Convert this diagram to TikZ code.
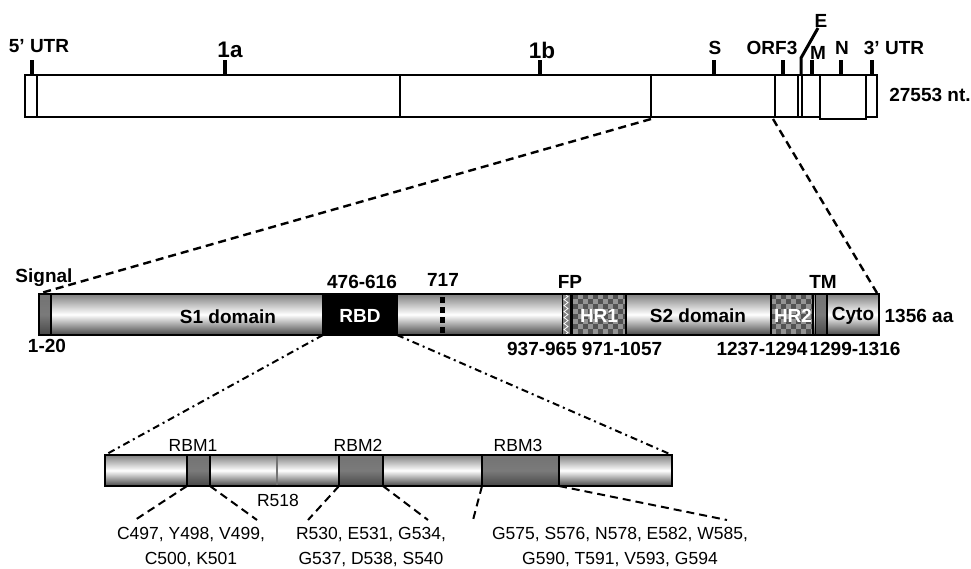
\documentclass[tikz,border=0pt]{standalone}
\usepackage{fontspec}
\setmainfont{Liberation Sans}
\usetikzlibrary{decorations.pathmorphing}
\begin{document}
\begin{tikzpicture}[x=1pt,y=-1pt,
  box/.style={draw=black, line width=1.8pt, fill=white, inner sep=0pt, outer sep=0pt, anchor=north west},
  tickmark/.style={line width=4pt},
  blab/.style={font=\fontsize{19}{21}\selectfont\bfseries, inner sep=0pt},
  biglab/.style={font=\fontsize{22.5}{24}\selectfont\bfseries, inner sep=0pt},
  wlab/.style={blab, text=white},
  rlab/.style={font=\fontsize{17.5}{25}\selectfont, inner sep=0pt, align=center},
  zoomdash/.style={line width=2.4pt, dash pattern=on 8pt off 5pt},
  zoomdd/.style={line width=2pt, dash pattern=on 7pt off 4pt on 2pt off 4pt},
  bar/.style={top color=black!50, bottom color=black!72, middle color=white},
  darkseg/.style={top color=black!55, bottom color=black!72, middle color=black!52},
]
\useasboundingbox (0,0) rectangle (971,568);

% ---------------- genome bar ----------------
\node[box, minimum width=12, minimum height=42] (utr5) at (25,75) {};
\node[box, minimum width=363, minimum height=42] (orf1a) at (37,75) {};
\node[box, minimum width=251, minimum height=42] (orf1b) at (400,75) {};
\node[box, minimum width=124, minimum height=42] (sgene) at (651,75) {};
\node[box, minimum width=23, minimum height=42] (orf3) at (775,75) {};
\node[box, minimum width=4, minimum height=42] (egene) at (798,75) {};
\node[box, minimum width=18, minimum height=42] (mgene) at (802,75) {};
\node[box, minimum width=46, minimum height=44] (ngene) at (820,75) {};
\node[box, minimum width=11, minimum height=42] (utr3) at (866,75) {};

\draw[tickmark] (32,75) -- (32,60);
\draw[tickmark] (225,75) -- (225,60);
\draw[tickmark] (540,75) -- (540,60);
\draw[tickmark] (714,75) -- (714,60);
\draw[tickmark] (783,75) -- (783,60);
\draw[tickmark] (812,75) -- (812,60);
\draw[tickmark] (841,75) -- (841,60);
\draw[tickmark] (872,75) -- (872,60);
\draw[line width=3pt] (801,75) -- (801,58) -- (818,28);

\node[blab] (l5utr) at (39,46) {5’ UTR};
\node[biglab] (l1a) at (230,50) {1a};
\node[biglab] (l1b) at (542,50) {1b};
\node[blab] (lS) at (715,48) {S};
\node[blab] (lorf3) at (772,48) {ORF3};
\node[blab] (lE) at (821,21) {E};
\node[blab] (lM) at (818,53) {M};
\node[blab] (lN) at (842,48) {N};
\node[blab] (l3utr) at (894,48) {3’ UTR};
\node[blab] (lnt) at (930,95) {27553 nt.};

% ---------------- spike domain bar ----------------
\node[box, bar, minimum width=840, minimum height=41] (spike) at (39,294) {};
\node[box, darkseg, draw=none, minimum width=12, minimum height=41] (signal) at (39,294) {};
\draw[line width=1.2pt] (51,294) -- (51,335);
\node[box, fill=black, minimum width=74, minimum height=41] (rbd) at (323,294) {};
\draw[line width=5pt, dash pattern=on 6pt off 4pt] (442,297) -- (442,333);

% FP
\fill[black!50] (562,294) rectangle (570,335);
\draw[white, line width=0.8pt, decorate, decoration={zigzag, segment length=6pt, amplitude=2pt}] (566,295) -- (566,334);
\draw[line width=1pt] (562,294) -- (562,335);
\draw[line width=3pt] (571.5,294) -- (571.5,335);
% HR1
\begin{scope}
\clip (573,294) rectangle (626,335);
\fill[black!42] (573,294) rectangle (626,335);
\foreach \j in {0,...,8} \foreach \i in {0,...,5}
  \fill[black!68] ({573+10*\i+5*mod(\j,2)},{294+5*\j}) rectangle ++(5,5);
\end{scope}
\draw[line width=1.2pt] (626,294) -- (626,335);
% HR2
\begin{scope}
\clip (771,294) rectangle (813,335);
\fill[black!42] (771,294) rectangle (813,335);
\foreach \j in {0,...,8} \foreach \i in {0,...,4}
  \fill[black!68] ({771+10*\i+5*mod(\j,2)},{294+5*\j}) rectangle ++(5,5);
\end{scope}
\draw[line width=1.2pt] (771,294) -- (771,335);
\draw[line width=1.2pt] (813,294) -- (813,335);
% TM
\node[box, darkseg, minimum width=12, minimum height=41, line width=1pt] (tm) at (815,294) {};
\draw[line width=1.5pt] (827,294) -- (827,335);
\draw[line width=2pt] (spike.north west) rectangle (spike.south east);

\node[blab] (lsignal) at (44,278) {Signal};
\node[blab] (l476) at (362,282) {476-616};
\node[blab] (l717) at (443,280) {717};
\node[blab] (lfp) at (570,282) {FP};
\node[blab] (ltm) at (823,282) {TM};
\node[blab] (ls1) at (228,317) {S1 domain};
\node[wlab] (lrbd) at (360,316) {RBD};
\node[wlab] (lhr1) at (599,316) {HR1};
\node[blab] (ls2) at (698,316) {S2 domain};
\node[wlab] (lhr2) at (793,316) {HR2};
\node[blab] (lcyto) at (853,316) {Cyto};
\node[blab] (laa) at (919,316) {1356 aa};
\node[blab] (l120) at (47,346) {1-20};
\node[blab] (l937) at (542,349) {937-965};
\node[blab] (l971) at (622,349) {971-1057};
\node[blab] (l1237) at (762,349) {1237-1294};
\node[blab] (l1299) at (855,349) {1299-1316};

% zoom lines genome -> spike
\coordinate (zl1) at (651,119);
\coordinate (zl2) at (41,293);
\coordinate (zr1) at (773,119);
\coordinate (zr2) at (877,293);
\draw[zoomdash] (zl1) -- (zl2);
\draw[zoomdash] (zr1) -- (zr2);

% ---------------- RBD detail bar ----------------
\node[box, bar, minimum width=567, minimum height=31] (rbmbar) at (105,455) {};
\node[box, darkseg, minimum width=23, minimum height=31, line width=1.2pt] (rbm1) at (187,455) {};
\node[box, darkseg, minimum width=44, minimum height=31, line width=1.2pt] (rbm2) at (339,455) {};
\node[box, darkseg, minimum width=77, minimum height=31, line width=1.2pt] (rbm3) at (482,455) {};
\draw[black!55, line width=2.5pt] (277,456) -- (277,485);
\draw[line width=2pt] (rbmbar.north west) rectangle (rbmbar.south east);

\draw[zoomdd] (rbd.south west) -- (rbmbar.north west);
\draw[zoomdd] (rbd.south east) -- (rbmbar.north east);

\node[rlab] (lrbm1) at (193,445) {RBM1};
\node[rlab] (lrbm2) at (358,445) {RBM2};
\node[rlab] (lrbm3) at (518,445) {RBM3};
\node[rlab] (lr518) at (278,500) {R518};

\node[rlab] (res1) at (191,547) {C497, Y498, V499,\\C500, K501};
\node[rlab] (res2) at (371,547) {R530, E531, G534,\\G537, D538, S540};
\node[rlab] (res3) at (620,547) {G575, S576, N578, E582, W585,\\G590, T591, V593, G594};

\coordinate (d1) at (135,520);
\coordinate (d2) at (257,520);
\coordinate (d3) at (308,520);
\coordinate (d4) at (428,520);
\coordinate (d5) at (473,520);
\coordinate (d6) at (727,520);
\draw[zoomdash, line width=2pt] (rbm1.south west) -- (d1);
\draw[zoomdash, line width=2pt] (rbm1.south east) -- (d2);
\draw[zoomdash, line width=2pt] (rbm2.south west) -- (d3);
\draw[zoomdash, line width=2pt] (rbm2.south east) -- (d4);
\draw[zoomdash, line width=2pt] (rbm3.south west) -- (d5);
\draw[zoomdash, line width=2pt] (rbm3.south east) -- (d6);
\end{tikzpicture}
\end{document}
